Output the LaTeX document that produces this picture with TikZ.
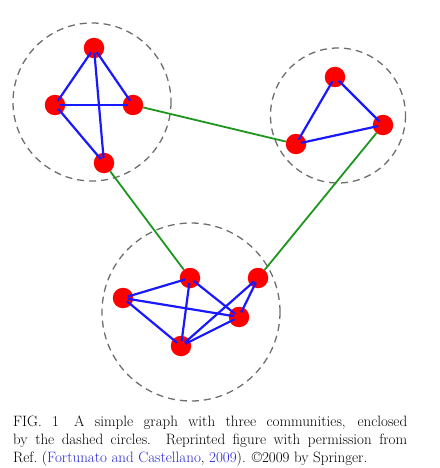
\documentclass[tikz,border=0pt]{standalone}
\usepackage{fix-cm}
\definecolor{nodered}{RGB}{255,0,0}
\definecolor{edgeblue}{RGB}{25,25,255}
\definecolor{edgegreen}{RGB}{30,150,30}
\definecolor{circgray}{RGB}{110,110,110}
\definecolor{linkblue}{RGB}{40,40,215}
\begin{document}
\begin{tikzpicture}[x=1pt,y=-1pt,
  vtx/.style={circle,fill=nodered,inner sep=0pt,minimum size=20.5pt},
  intra/.style={draw=edgeblue,line width=2.2pt,shorten <=5pt,shorten >=5pt},
  inter/.style={draw=edgegreen,line width=1.8pt},
  commu/.style={draw=circgray,line width=1.3pt,dash pattern=on 7pt off 5pt}]
\useasboundingbox (0,0) rectangle (439,468);
% community circles
\draw[commu] (92,102) circle[radius=79];
\draw[commu] (338,115.5) circle[radius=67.5];
\draw[commu] (191,312) circle[radius=89];
% nodes
\node[vtx] (a) at (94,48) {};
\node[vtx] (b) at (55,105) {};
\node[vtx] (c) at (133,105) {};
\node[vtx] (d) at (104,163) {};
\node[vtx] (e) at (335,77) {};
\node[vtx] (f) at (383,125) {};
\node[vtx] (g) at (296,144) {};
\node[vtx] (h) at (190,278) {};
\node[vtx] (i) at (123,298) {};
\node[vtx] (j) at (258,278) {};
\node[vtx] (k) at (239,317) {};
\node[vtx] (l) at (181,346) {};
% inter-community edges
\draw[inter] (c) -- (g);
\draw[inter] (d) -- (h);
\draw[inter] (f) -- (j);
% intra-community edges
\foreach \u/\v in {a/b,a/c,a/d,b/c,b/d,e/f,e/g,f/g,i/h,i/k,i/l,h/l,h/k,j/l,j/k,l/k}
  \draw[intra] (\u.center) -- (\v.center);
% caption
\node[anchor=north west,inner sep=0pt,text width=394pt,align=justify,
  font=\fontsize{15}{18}\selectfont] (cap) at (13,416)
  {FIG. 1\quad A simple graph with three communities, enclosed\linebreak
   by the dashed circles. Reprinted figure with permission from\linebreak
   Ref.~(\textcolor{linkblue}{Fortunato and Castellano}, \textcolor{linkblue}{2009}). \textcopyright2009 by Springer.};
\end{tikzpicture}
\end{document}
